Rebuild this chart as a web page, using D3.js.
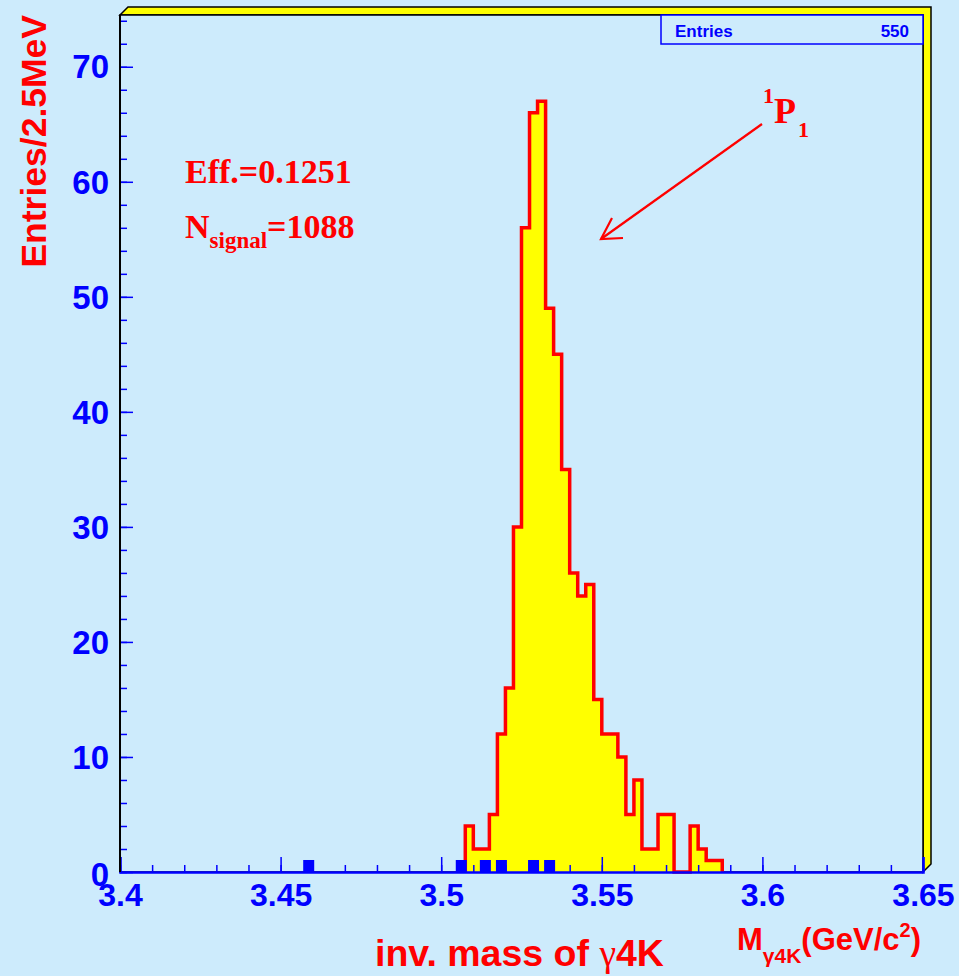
<!DOCTYPE html>
<html lang="en">
<head>
<meta charset="utf-8" />
<title>inv. mass of gamma 4K</title>
<script src="https://cdn.jsdelivr.net/npm/d3@7"></script>
<style>
    body { margin: 0; background: #cdebfc; }
    svg { display: block; }
    .sans { font-family: "Liberation Sans", Arial, Helvetica, sans-serif; font-weight: bold; }
    .serif { font-family: "Liberation Serif", "Times New Roman", serif; font-weight: bold; }
</style>
</head>
<body>
<script>
// histogram binning (2.5 MeV bins)
var binWidth = 0.0025;
var signalFirstBin = 3.5075;   // lower edge of first non-empty bin
var signalCounts = [4, 2, 2, 5, 12, 16, 30, 56, 66, 67, 49, 45, 35, 26, 24, 25,
                    15, 12, 12, 10, 5, 8, 2, 2, 5, 5, 0, 0, 4, 2, 1, 1];
// second (blue) histogram: bin centres and contents
var bgCenters = [3.45875, 3.50625, 3.51375, 3.51875, 3.52875, 3.53375];
var bgCounts = [1, 1, 1, 1, 1, 1];

var xTicks = [3.4, 3.45, 3.5, 3.55, 3.6, 3.65];
var xTickLabels = ["3.4", "3.45", "3.5", "3.55", "3.6", "3.65"];
var yTicks = [0, 10, 20, 30, 40, 50, 60, 70];
var entries = 550;

var w = 959, h = 976;
var pLeft = 120, pRight = 923, pTop = 15, pBottom = 872;
var bg = "#cdebfc";

var x = d3.scaleLinear().domain([3.4, 3.65]).range([pLeft, pRight]);
var y = d3.scaleLinear().domain([0, 74.5]).range([pBottom, pTop]);

var svg = d3.select("body").append("svg")
    .attr("width", w)
    .attr("height", h);

svg.append("rect").attr("width", w).attr("height", h).attr("fill", bg);

// 3D frame bevel
svg.append("polygon")
    .attr("points", [[pLeft, pTop], [pLeft + 8, pTop - 8], [pRight + 8, pTop - 8],
                     [pRight + 8, pBottom - 8], [pRight, pBottom], [pRight, pTop]].join(" "))
    .attr("fill", "#ffff00")
    .attr("stroke", "black")
    .attr("stroke-width", 1.5);

svg.append("rect")
    .attr("x", pLeft).attr("y", pTop)
    .attr("width", pRight - pLeft).attr("height", pBottom - pTop)
    .attr("fill", bg)
    .attr("stroke", "black")
    .attr("stroke-width", 1.5);

// signal histogram as a step outline
var pts = [[x(signalFirstBin), y(0)]];
signalCounts.forEach(function(c, i) {
    var lo = signalFirstBin + i * binWidth;
    pts.push([x(lo), y(c)]);
    pts.push([x(lo + binWidth), y(c)]);
});
pts.push([x(signalFirstBin + signalCounts.length * binWidth), y(0)]);

svg.append("path")
    .attr("d", d3.line()(pts))
    .attr("fill", "#ffff00")
    .attr("stroke", "#ff0000")
    .attr("stroke-width", 3.5)
    .attr("stroke-linejoin", "miter");

// blue histogram
svg.selectAll("rect.bgbin")
    .data(bgCenters)
    .enter()
    .append("rect")
    .attr("class", "bgbin")
    .attr("x", function(d) { return x(d) - 5.5; })
    .attr("y", function(d, i) { return y(bgCounts[i]) - 0.5; })
    .attr("width", 11)
    .attr("height", function(d, i) { return y(0) - y(bgCounts[i]) + 0.5; })
    .attr("fill", "#0000ff");

// x axis
var xMinor = d3.range(0, 26).map(function(i) { return 3.4 + i * 0.01; });
svg.append("g")
    .attr("transform", "translate(0," + pBottom + ")")
    .call(d3.axisBottom(x).tickValues(xMinor).tickSize(-7).tickFormat(""))
    .call(function(g) { g.select(".domain").remove(); })
    .selectAll("line").attr("stroke", "#0000ff").attr("stroke-width", 1.5);

var xAxis = svg.append("g")
    .attr("transform", "translate(0," + pBottom + ")")
    .call(d3.axisBottom(x).tickValues(xTicks).tickSize(-15).tickPadding(11)
        .tickFormat(function(d, i) { return xTickLabels[i]; }));
xAxis.select(".domain").attr("stroke", "#0000ff").attr("stroke-width", 2.5);
xAxis.selectAll("line").attr("stroke", "#0000ff").attr("stroke-width", 1.5);
xAxis.selectAll("text")
    .attr("class", "sans")
    .attr("font-size", 32)
    .attr("fill", "#0000ff");

// y axis
var yMinor = d3.range(0, 38).map(function(i) { return i * 2; });
svg.append("g")
    .attr("transform", "translate(" + pLeft + ",0)")
    .call(d3.axisLeft(y).tickValues(yMinor).tickSize(-7).tickFormat(""))
    .call(function(g) { g.select(".domain").remove(); })
    .selectAll("line").attr("stroke", "#0000ff").attr("stroke-width", 1.5);

var yAxis = svg.append("g")
    .attr("transform", "translate(" + pLeft + ",0)")
    .call(d3.axisLeft(y).tickValues(yTicks).tickSize(-13).tickPadding(11));
yAxis.select(".domain").remove();
yAxis.selectAll("line").attr("stroke", "#0000ff").attr("stroke-width", 1.5);
yAxis.selectAll("text")
    .attr("class", "sans")
    .attr("font-size", 33)
    .attr("dy", function(d) { return d === 0 ? "0.42em" : "0.34em"; })
    .attr("fill", "#0000ff");

svg.append("line")
    .attr("x1", pLeft).attr("x2", pLeft)
    .attr("y1", pTop).attr("y2", pBottom)
    .attr("stroke", "black").attr("stroke-width", 2);

// stats box
svg.append("rect")
    .attr("x", 661).attr("y", pTop)
    .attr("width", pRight - 661).attr("height", 29)
    .attr("fill", bg)
    .attr("stroke", "#0000ff")
    .attr("stroke-width", 1.5);
svg.append("text").attr("class", "sans")
    .attr("x", 675).attr("y", 37)
    .attr("font-size", 17).attr("fill", "#0000ff")
    .text("Entries");
svg.append("text").attr("class", "sans")
    .attr("x", 909).attr("y", 37)
    .attr("text-anchor", "end")
    .attr("font-size", 17).attr("fill", "#0000ff")
    .text(entries);

// axis titles
svg.append("text").attr("class", "sans")
    .attr("transform", "translate(46,15) rotate(-90)")
    .attr("text-anchor", "end")
    .attr("font-size", 35.5)
    .attr("fill", "#ff0000")
    .text("Entries/2.5MeV");

var xt = svg.append("text").attr("class", "sans")
    .attr("x", 375).attr("y", 966)
    .attr("font-size", 37.5)
    .attr("fill", "#ff0000");
xt.append("tspan").text("inv. mass of ");
xt.append("tspan").attr("font-family", "Liberation Serif, serif").attr("font-weight", "normal").text("\u03b3");
xt.append("tspan").text("4K");

var mt = svg.append("text").attr("class", "sans")
    .attr("x", 737).attr("y", 950)
    .attr("font-size", 31)
    .attr("fill", "#ff0000");
mt.append("tspan").text("M");
mt.append("tspan").attr("font-size", 21).attr("dy", 13).text("\u03b34K");
mt.append("tspan").attr("dy", -13).text("(GeV/c");
mt.append("tspan").attr("font-size", 20).attr("dy", -13).text("2");
mt.append("tspan").attr("dy", 13).text(")");

// annotations
svg.append("text").attr("class", "serif")
    .attr("x", 185).attr("y", 183)
    .attr("font-size", 34).attr("fill", "#ff0000")
    .text("Eff.=0.1251");

var ns = svg.append("text").attr("class", "serif")
    .attr("x", 185).attr("y", 238)
    .attr("font-size", 34).attr("fill", "#ff0000");
ns.append("tspan").text("N");
ns.append("tspan").attr("font-size", 23).attr("dy", 10).text("signal");
ns.append("tspan").attr("dy", -10).text("=1088");

var pl = svg.append("text").attr("class", "serif")
    .attr("x", 763).attr("y", 123)
    .attr("font-size", 36).attr("fill", "#ff0000");
pl.append("tspan").attr("font-size", 22).attr("dy", -20).text("1");
pl.append("tspan").attr("dy", 20).text("P");
pl.append("tspan").attr("font-size", 22).attr("dx", 2).attr("dy", 14).text("1");

// arrow pointing at the peak
svg.append("line")
    .attr("x1", 762).attr("y1", 124)
    .attr("x2", 601).attr("y2", 239)
    .attr("stroke", "#ff0000").attr("stroke-width", 2.2);
svg.append("path")
    .attr("d", "M612,218 L601,239 L623,238")
    .attr("fill", "none")
    .attr("stroke", "#ff0000").attr("stroke-width", 2.2);
</script>
</body>
</html>
